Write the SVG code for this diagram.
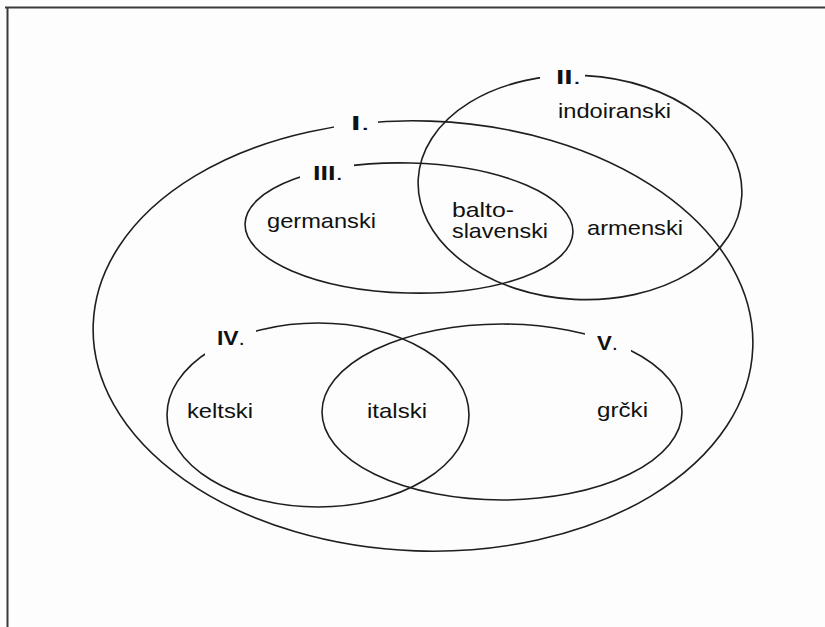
<svg xmlns="http://www.w3.org/2000/svg" width="825" height="627" viewBox="0 0 825 627">
  <style>
    .set { fill: none; stroke: #1e1e1e; stroke-width: 1.6; }
    .lbl { font-family: "Liberation Sans", Arial, sans-serif; font-size: 21px; fill: #111; }
    .num { font-family: "Liberation Sans", Arial, sans-serif; font-size: 20px; font-weight: bold; fill: #111; }
    .dot { font-weight: normal; }
  </style>
  <defs>
    <mask id="gaps" maskUnits="userSpaceOnUse" x="0" y="0" width="825" height="627">
      <rect x="0" y="0" width="825" height="627" fill="#fff"/>
      <rect x="334" y="106" width="44" height="32" fill="#000"/>
      <rect x="540" y="62" width="45" height="28" fill="#000"/>
      <rect x="300" y="156" width="54" height="30" fill="#000"/>
      <rect x="205" y="318" width="51" height="42" fill="#000"/>
      <rect x="585" y="318" width="46" height="42" fill="#000"/>
    </mask>
  </defs>
  <rect x="0" y="0" width="825" height="627" fill="#fdfdfd"/>
  <g id="frame" fill="none" stroke="#3a3a3a" stroke-width="2">
    <path d="M5 7.5 H825 M7.5 7 V627"/>
  </g>
  <g id="connectors" mask="url(#gaps)">
    <ellipse id="e1" class="set" cx="423" cy="336" rx="330" ry="215" transform="rotate(2 423 336)"/>
    <ellipse id="e2" class="set" cx="580" cy="187.5" rx="162" ry="112" transform="rotate(3 580 187.5)"/>
    <ellipse id="e3" class="set" cx="409" cy="228" rx="164" ry="65" transform="rotate(1.5 409 228)"/>
    <ellipse id="e4" class="set" cx="318" cy="415" rx="151" ry="92"/>
    <ellipse id="e5" class="set" cx="502" cy="412" rx="180" ry="88"/>
  </g>
  <g id="node-I">
    <text class="num" x="351" y="130" textLength="19" lengthAdjust="spacingAndGlyphs">I<tspan class="dot">.</tspan></text>
  </g>
  <g id="node-II">
    <text class="num" x="556" y="84" textLength="25" lengthAdjust="spacingAndGlyphs">II<tspan class="dot">.</tspan></text>
    <text class="lbl" x="558" y="118" textLength="113" lengthAdjust="spacingAndGlyphs">indoiranski</text>
    <text class="lbl" x="587" y="235" textLength="96" lengthAdjust="spacingAndGlyphs">armenski</text>
  </g>
  <g id="node-III">
    <text class="num" x="313" y="180" textLength="30" lengthAdjust="spacingAndGlyphs">III<tspan class="dot">.</tspan></text>
    <text class="lbl" x="267" y="228" textLength="109" lengthAdjust="spacingAndGlyphs">germanski</text>
    <text class="lbl" x="452" y="217" textLength="62" lengthAdjust="spacingAndGlyphs">balto-</text>
    <text class="lbl" x="452" y="238" textLength="96" lengthAdjust="spacingAndGlyphs">slavenski</text>
  </g>
  <g id="node-IV">
    <text class="num" x="217" y="345" textLength="28" lengthAdjust="spacingAndGlyphs">IV<tspan class="dot">.</tspan></text>
    <text class="lbl" x="187" y="418" textLength="66" lengthAdjust="spacingAndGlyphs">keltski</text>
    <text class="lbl" x="367" y="418" textLength="60" lengthAdjust="spacingAndGlyphs">italski</text>
  </g>
  <g id="node-V">
    <text class="num" x="597" y="350" textLength="21" lengthAdjust="spacingAndGlyphs">V<tspan class="dot">.</tspan></text>
    <text class="lbl" x="597" y="417" textLength="51" lengthAdjust="spacingAndGlyphs">grčki</text>
  </g>
</svg>
